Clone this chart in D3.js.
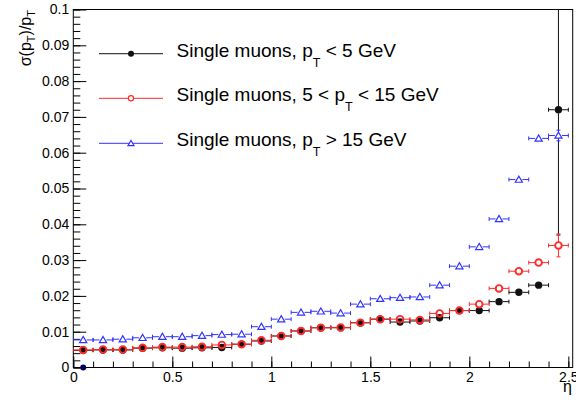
<!DOCTYPE html>
<html>
<head>
<meta charset="utf-8">
<script src="https://cdn.jsdelivr.net/npm/d3@7"></script>
<style>
  body { margin: 0; background: #fff; }
  svg { font-family: "Liberation Sans", Arial, sans-serif; }
</style>
</head>
<body>
<div id="chart-section"></div>
<script>
// eta bin centres (bin width 0.1)
var etaCenters = [0.05,0.15,0.25,0.35,0.45,0.55,0.65,0.75,0.85,0.95,1.05,1.15,1.25,1.35,1.45,1.55,1.65,1.75,1.85,1.95,2.05,2.15,2.25,2.35,2.45];

// sigma(pT)/pT, pT < 5 GeV
var lowPt = [0.0048,0.0049,0.0049,0.0054,0.0055,0.0054,0.0055,0.0056,0.0065,0.0074,0.0088,0.0102,0.0111,0.0111,0.0125,0.0135,0.0127,0.0130,0.0139,0.0159,0.0159,0.0184,0.0210,0.0230,0.0720];
var lowPtErr = [0,0,0,0,0,0,0,0,0,0,0,0,0,0,0,0,0,0,0,0,0,0,0,0,0.035];

// 5 < pT < 15 GeV
var midPt = [0.0049,0.0050,0.0050,0.0055,0.0057,0.0057,0.0058,0.0063,0.0065,0.0076,0.0088,0.0102,0.0111,0.0112,0.0125,0.0135,0.0135,0.0133,0.0151,0.0159,0.0177,0.0221,0.0269,0.0293,0.0341];
var midPtErr = [0,0,0,0,0,0,0,0,0,0,0,0,0,0,0,0,0,0,0,0,0,0,0,0,0.0032];

// pT > 15 GeV
var highPt = [0.0077,0.0077,0.0079,0.0083,0.0086,0.0086,0.0089,0.0092,0.0093,0.0114,0.0135,0.0154,0.0157,0.0152,0.0177,0.0192,0.0195,0.0197,0.0230,0.0283,0.0337,0.0415,0.0525,0.0640,0.0648];
var highPtErr = [0,0,0,0,0,0,0,0,0,0,0,0,0,0,0,0,0,0,0,0,0,0,0,0,0.0015];

// stray point sitting on zero
var zeroEta = [0.05];
var zeroVal = [0];

var xTicks = [0,0.5,1,1.5,2,2.5];
var yTicks = [0,0.01,0.02,0.03,0.04,0.05,0.06,0.07,0.08,0.09,0.1];
var halfBin = 0.05;

var width = 576, height = 400;

var svg = d3.select("#chart-section")
  .append("svg")
  .attr("width", width)
  .attr("height", height);

var xscale = d3.scaleLinear().domain([0, 2.522]).range([73.3, 572.7]);
var yscale = d3.scaleLinear().domain([0, 0.1]).range([367.5, 9.5]);

var fmt = d3.format("~g");

// minor ticks first
svg.append("g")
  .attr("transform", "translate(0," + yscale(0) + ")")
  .call(d3.axisBottom(xscale).tickValues(d3.range(0, 26).map(i => i / 10)).tickSize(-6).tickSizeOuter(0).tickFormat(""))
  .call(g => g.select(".domain").remove());
svg.append("g")
  .attr("transform", "translate(" + xscale(0) + ",0)")
  .call(d3.axisLeft(yscale).tickValues(d3.range(0, 51).map(i => i * 0.002)).tickSize(-7).tickSizeOuter(0).tickFormat(""))
  .call(g => g.select(".domain").remove());

// major ticks + labels
svg.append("g")
  .attr("transform", "translate(0," + yscale(0) + ")")
  .call(d3.axisBottom(xscale).tickValues(xTicks).tickSize(-11).tickSizeOuter(0).tickPadding(4.5).tickFormat(fmt))
  .call(g => g.select(".domain").remove())
  .call(g => g.selectAll("text").attr("font-size", 14).attr("fill", "#000").attr("font-family", "Liberation Sans, Arial, sans-serif"));
svg.append("g")
  .attr("transform", "translate(" + xscale(0) + ",0)")
  .call(d3.axisLeft(yscale).tickValues(yTicks).tickSize(-13).tickSizeOuter(0).tickPadding(4).tickFormat(fmt))
  .call(g => g.select(".domain").remove())
  .call(g => g.selectAll("text").attr("font-size", 14).attr("fill", "#000").attr("font-family", "Liberation Sans, Arial, sans-serif"));

svg.selectAll(".tick line").attr("stroke", "#000");

// frame
svg.append("rect")
  .attr("x", xscale(0)).attr("y", yscale(0.1))
  .attr("width", xscale.range()[1] - xscale(0))
  .attr("height", yscale(0) - yscale(0.1))
  .attr("fill", "none").attr("stroke", "#000").attr("stroke-width", 1);

// axis titles
svg.append("text")
  .attr("x", 572).attr("y", 392)
  .attr("text-anchor", "end")
  .attr("font-size", 16)
  .text("η");

var ytitle = svg.append("text")
  .attr("transform", "translate(31,10) rotate(-90)")
  .attr("text-anchor", "end")
  .attr("font-size", 16);
ytitle.append("tspan").text("σ(p");
ytitle.append("tspan").attr("font-size", 11).attr("dy", 4).text("T");
ytitle.append("tspan").attr("dy", -4).text(")/p");
ytitle.append("tspan").attr("font-size", 11).attr("dy", 4).text("T");

// clip for data
svg.append("clipPath").attr("id", "plotclip")
  .append("rect")
  .attr("x", xscale(0)).attr("y", yscale(0.1))
  .attr("width", xscale.range()[1] - xscale(0))
  .attr("height", yscale(0) - yscale(0.1));

var plot = svg.append("g").attr("clip-path", "url(#plotclip)");

function drawSeries(vals, errs, color, r, marker) {
  var pts = etaCenters.map((e, i) => ({ eta: e, v: vals[i], err: errs[i] }));
  var g = plot.append("g");
  var cap = 2;
  pts.forEach(d => {
    var cx = xscale(d.eta), cy = yscale(d.v);
    var x0 = xscale(d.eta - halfBin), x1 = xscale(d.eta + halfBin);
    // x error
    g.append("line").attr("x1", x0).attr("x2", cx - r).attr("y1", cy).attr("y2", cy).attr("stroke", color);
    g.append("line").attr("x1", cx + r).attr("x2", x1).attr("y1", cy).attr("y2", cy).attr("stroke", color);
    g.append("line").attr("x1", x0).attr("x2", x0).attr("y1", cy - cap).attr("y2", cy + cap).attr("stroke", color);
    g.append("line").attr("x1", x1).attr("x2", x1).attr("y1", cy - cap).attr("y2", cy + cap).attr("stroke", color);
    // y error
    if (d.err > 0) {
      var yt = yscale(d.v + d.err), yb = yscale(d.v - d.err);
      g.append("line").attr("x1", cx).attr("x2", cx).attr("y1", yt).attr("y2", cy - r).attr("stroke", color);
      g.append("line").attr("x1", cx).attr("x2", cx).attr("y1", cy + r).attr("y2", yb).attr("stroke", color);
      g.append("line").attr("x1", cx - cap).attr("x2", cx + cap).attr("y1", yt).attr("y2", yt).attr("stroke", color);
      g.append("line").attr("x1", cx - cap).attr("x2", cx + cap).attr("y1", yb).attr("y2", yb).attr("stroke", color);
    }
  });
  pts.forEach(d => marker(g, xscale(d.eta), yscale(d.v)));
}

function dot(color) {
  return (g, cx, cy) => g.append("circle").attr("cx", cx).attr("cy", cy).attr("r", 3.7).attr("fill", color);
}
function ring(color) {
  return (g, cx, cy) => g.append("circle").attr("cx", cx).attr("cy", cy).attr("r", 3.3)
    .attr("fill", "none").attr("stroke", color).attr("stroke-width", 1.9);
}
function tri(color, s) {
  return (g, cx, cy) => g.append("path")
    .attr("d", "M" + (cx - s) + "," + (cy + s * 0.75) + "L" + (cx + s) + "," + (cy + s * 0.75) + "L" + cx + "," + (cy - s * 0.95) + "Z")
    .attr("fill", "#fff").attr("stroke", color).attr("stroke-width", 1.2);
}

var cBlack = "#111", cRed = "#ff2a2a", cBlue = "#3333ff";

drawSeries(lowPt, lowPtErr, cBlack, 3.7, dot(cBlack));
drawSeries(midPt, midPtErr, cRed, 3.3, ring(cRed));
drawSeries(highPt, highPtErr, cBlue, 3.5, tri(cBlue, 3.6));

// point at zero
svg.selectAll(".zero")
  .data(zeroEta.map((e, i) => ({ eta: e, v: zeroVal[i] })))
  .enter().append("circle")
  .attr("cx", d => xscale(d.eta)).attr("cy", d => yscale(d.v))
  .attr("r", 3).attr("fill", "#00005a");

// legend
var legendRows = [
  { y: 53.7, color: cBlack, m: dot(cBlack), parts: ["Single muons, p", "T", " < 5 GeV"] },
  { y: 98.3, color: cRed, m: ring(cRed), parts: ["Single muons, 5 < p", "T", " < 15 GeV"] },
  { y: 143.3, color: cBlue, m: tri(cBlue, 3), parts: ["Single muons, p", "T", " > 15 GeV"] }
];
var lg = svg.append("g");
legendRows.forEach(row => {
  lg.append("line").attr("x1", 99).attr("x2", 163).attr("y1", row.y).attr("y2", row.y)
    .attr("stroke", row.color).attr("stroke-width", 1.2).attr("opacity", 0.8);
  if (row.color === cRed) {
    lg.append("circle").attr("cx", 131).attr("cy", row.y).attr("r", 2.6).attr("fill", "#fff")
      .attr("stroke", cRed).attr("stroke-width", 1.2);
  } else if (row.color === cBlack) {
    lg.append("circle").attr("cx", 131).attr("cy", row.y).attr("r", 3).attr("fill", cBlack);
  } else {
    row.m(lg, 131, row.y);
  }
  var t = lg.append("text").attr("x", 176.5).attr("y", row.y + 3).attr("font-size", 19).attr("fill", "#000");
  t.append("tspan").text(row.parts[0]);
  t.append("tspan").attr("font-size", 12.5).attr("dy", 10).text(row.parts[1]);
  t.append("tspan").attr("dy", -10).text(row.parts[2]);
});
</script>
</body>
</html>
